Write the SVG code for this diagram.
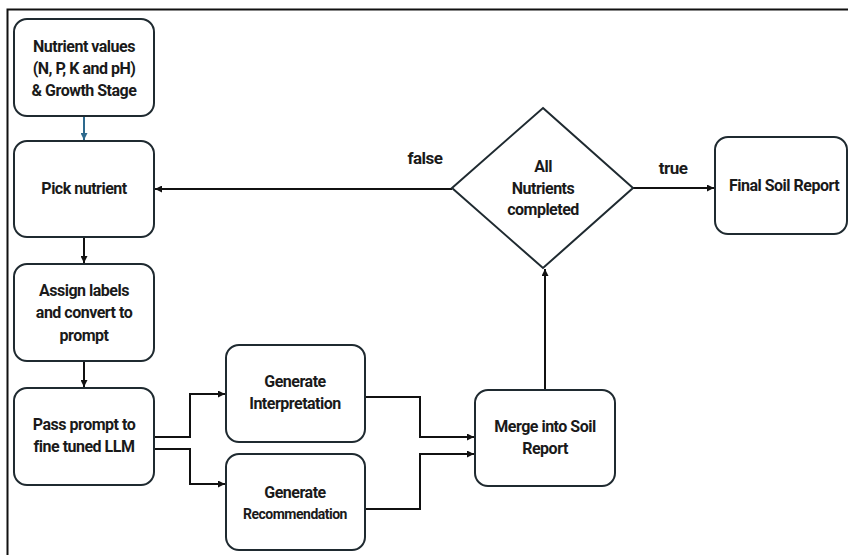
<svg xmlns="http://www.w3.org/2000/svg" width="848" height="555" viewBox="0 0 848 555">
<defs>
<style>
.box{fill:#fff;stroke:#1f2a30;stroke-width:2}
.ln{fill:none;stroke:#111;stroke-width:2}
.t{font-family:Roboto,"Liberation Sans",sans-serif;font-weight:bold;font-size:16px;fill:#1a1a1a;text-anchor:middle;letter-spacing:-0.5px}
</style>
<marker id="ah" viewBox="0 0 10 10" refX="10" refY="5" markerWidth="7" markerHeight="7" orient="auto" markerUnits="userSpaceOnUse">
<path d="M0,0 L10,5 L0,10 z" fill="#111"/>
</marker>
<marker id="ahb" viewBox="0 0 10 10" refX="10" refY="5" markerWidth="7" markerHeight="7" orient="auto" markerUnits="userSpaceOnUse">
<path d="M0,0 L10,5 L0,10 z" fill="#2e6a8e"/>
</marker>
</defs>
<rect width="848" height="555" fill="#fff"/>
<path d="M7.5,555 V9.5 H848" fill="none" stroke="#111" stroke-width="2"/>

<g id="connectors">
<line x1="84" y1="116" x2="84" y2="140" stroke="#2e6a8e" stroke-width="2" marker-end="url(#ahb)"/>
<line class="ln" x1="84" y1="237" x2="84" y2="263" marker-end="url(#ah)"/>
<line class="ln" x1="84" y1="361" x2="84" y2="387" marker-end="url(#ah)"/>
<path class="ln" d="M154,437 H190 V394 H225" marker-end="url(#ah)"/>
<path class="ln" d="M154,449 H190 V484 H225" marker-end="url(#ah)"/>
<path class="ln" d="M365,397 H420 V437 H474" marker-end="url(#ah)"/>
<path class="ln" d="M365,509 H420 V454 H474" marker-end="url(#ah)"/>
<line class="ln" x1="545" y1="390" x2="545" y2="269" marker-end="url(#ah)"/>
<line class="ln" x1="452" y1="189" x2="155" y2="189" marker-end="url(#ah)"/>
<line class="ln" x1="633" y1="188" x2="714" y2="188" marker-end="url(#ah)"/>
<text class="t" x="425" y="164" style="font-size:17px">false</text>
<text class="t" x="673" y="174" style="font-size:17px">true</text>
</g>

<g id="n-input">
<rect class="box" x="14" y="19" width="140" height="97" rx="13"/>
<text class="t" x="84" y="52">Nutrient values</text>
<text class="t" x="84" y="74">(N, P, K and pH)</text>
<text class="t" x="84" y="96">&amp; Growth Stage</text>
</g>
<g id="n-pick">
<rect class="box" x="14" y="141" width="140" height="96" rx="13"/>
<text class="t" x="84" y="194">Pick nutrient</text>
</g>
<g id="n-assign">
<rect class="box" x="14" y="264" width="140" height="97" rx="13"/>
<text class="t" x="84" y="296">Assign labels</text>
<text class="t" x="84" y="318">and convert to</text>
<text class="t" x="84" y="341">prompt</text>
</g>
<g id="n-pass">
<rect class="box" x="14" y="388" width="140" height="97" rx="13"/>
<text class="t" x="84" y="430">Pass prompt to</text>
<text class="t" x="84" y="452">fine tuned LLM</text>
</g>
<g id="n-interp">
<rect class="box" x="226" y="345" width="139" height="97" rx="13"/>
<text class="t" x="295" y="387">Generate</text>
<text class="t" x="295" y="409">Interpretation</text>
</g>
<g id="n-rec">
<rect class="box" x="226" y="454" width="139" height="96" rx="13"/>
<text class="t" x="295" y="498">Generate</text>
<text class="t" x="295" y="519" style="font-size:14px">Recommendation</text>
</g>
<g id="n-merge">
<rect class="box" x="475" y="390" width="140" height="96" rx="13"/>
<text class="t" x="545" y="432">Merge into Soil</text>
<text class="t" x="545" y="454">Report</text>
</g>
<g id="n-decision">
<polygon class="box" points="543,108 633,188 543,268 452,188"/>
<text class="t" x="543" y="172">All</text>
<text class="t" x="543" y="194">Nutrients</text>
<text class="t" x="543" y="215">completed</text>
</g>
<g id="n-final">
<rect class="box" x="715" y="137" width="132" height="97" rx="13"/>
<text class="t" x="784" y="191">Final Soil Report</text>
</g>
</svg>
